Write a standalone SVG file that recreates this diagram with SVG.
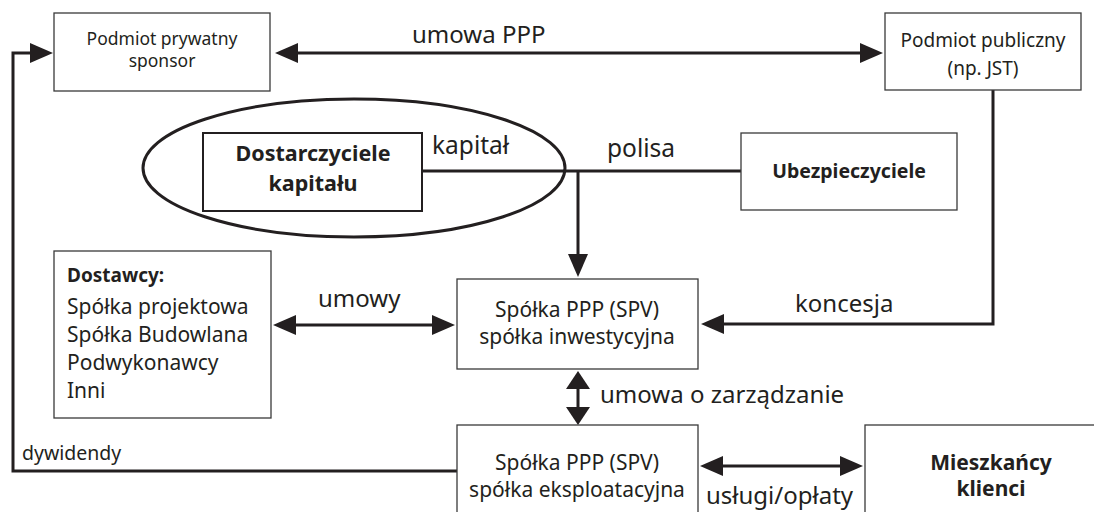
<svg xmlns="http://www.w3.org/2000/svg" width="1094" height="512" viewBox="0 0 1094 512">
<defs>
<style>
text{font-family:"Noto Sans","Open Sans","Liberation Sans",sans-serif;fill:#231f20}
.b{font-weight:bold}
.m{text-anchor:middle}
.box{fill:#fff;stroke:#3a3a3a;stroke-width:1.3}
.ln{fill:none;stroke:#231f20;stroke-width:3}
.lb{font-size:24px}
</style>
<marker id="ah" markerUnits="userSpaceOnUse" markerWidth="23" markerHeight="20" refX="18" refY="10" orient="auto-start-reverse">
<path d="M0,0 L23,10 L0,20 z" fill="#231f20"/>
</marker>
<marker id="ah2" markerUnits="userSpaceOnUse" markerWidth="18" markerHeight="24" refX="13" refY="12" orient="auto-start-reverse">
<path d="M0,0 L18,12 L0,24 z" fill="#231f20"/>
</marker>
</defs>
<rect width="1094" height="512" fill="#fff"/>

<g id="connectors">
<path class="ln" d="M457,471 H13 V53 H48" marker-end="url(#ah)"/>
<path class="ln" d="M280,53 H878" marker-start="url(#ah)" marker-end="url(#ah)"/>
<path class="ln" d="M993,90 V324 H706" marker-end="url(#ah)"/>
<path class="ln" d="M422,171 H741"/>
<path class="ln" d="M578,171 V272" marker-end="url(#ah)"/>
<path class="ln" d="M278,325 H450" marker-start="url(#ah)" marker-end="url(#ah)"/>
<path class="ln" d="M578,376 V420" marker-start="url(#ah2)" marker-end="url(#ah2)"/>
<path class="ln" d="M705,466 H858" marker-start="url(#ah)" marker-end="url(#ah)"/>
<text class="lb" x="412" y="43">umowa PPP</text>
<text x="432" y="154" font-size="24.5">kapitał</text>
<text x="607" y="157" font-size="24.5">polisa</text>
<text class="lb" x="318" y="307">umowy</text>
<text class="lb" x="795" y="312">koncesja</text>
<text class="lb" x="600" y="403">umowa o zarządzanie</text>
<text x="22" y="460" font-size="19.5">dywidendy</text>
<text class="lb" x="706" y="504">usługi/opłaty</text>
</g>

<g id="ellipse-capital">
<ellipse cx="354" cy="168" rx="211" ry="69" fill="none" stroke="#231f20" stroke-width="3"/>
</g>

<g id="podmiot-prywatny">
<rect class="box" x="54" y="13" width="216" height="78"/>
<text class="m" x="162" y="45" font-size="17.5">Podmiot prywatny</text>
<text class="m" x="162" y="67" font-size="17.5">sponsor</text>
</g>

<g id="podmiot-publiczny">
<rect class="box" x="885" y="13" width="196" height="77"/>
<text class="m" x="983" y="47" font-size="19">Podmiot publiczny</text>
<text class="m" x="983" y="75" font-size="19">(np. JST)</text>
</g>

<g id="dostarczyciele">
<rect x="203" y="133" width="219" height="78" fill="#fff" stroke="#231f20" stroke-width="2"/>
<text class="m b" x="313" y="161" font-size="21.5">Dostarczyciele</text>
<text class="m b" x="313" y="191" font-size="21.5">kapitału</text>
</g>

<g id="ubezpieczyciele">
<rect class="box" x="741" y="133" width="216" height="77"/>
<text class="m b" x="849" y="178" font-size="19.5">Ubezpieczyciele</text>
</g>

<g id="dostawcy">
<rect class="box" x="54" y="251" width="217" height="167"/>
<text class="b" x="67" y="282" font-size="19">Dostawcy:</text>
<text x="67" y="314" font-size="21">Spółka projektowa</text>
<text x="67" y="342" font-size="21">Spółka Budowlana</text>
<text x="67" y="370" font-size="21">Podwykonawcy</text>
<text x="67" y="398" font-size="21">Inni</text>
</g>

<g id="spv-inwestycyjna">
<rect class="box" x="457" y="279" width="241" height="90"/>
<text class="m" x="577" y="317" font-size="21">Spółka PPP (SPV)</text>
<text class="m" x="577" y="344" font-size="21">spółka inwestycyjna</text>
</g>

<g id="spv-eksploatacyjna">
<rect class="box" x="457" y="425" width="241" height="100"/>
<text class="m" x="577" y="470" font-size="21">Spółka PPP (SPV)</text>
<text class="m" x="577" y="497" font-size="21">spółka eksploatacyjna</text>
</g>

<g id="mieszkancy">
<rect class="box" x="865" y="425" width="250" height="100"/>
<text class="m b" x="991" y="470" font-size="21">Mieszkańcy</text>
<text class="m b" x="991" y="496" font-size="21">klienci</text>
</g>
</svg>
